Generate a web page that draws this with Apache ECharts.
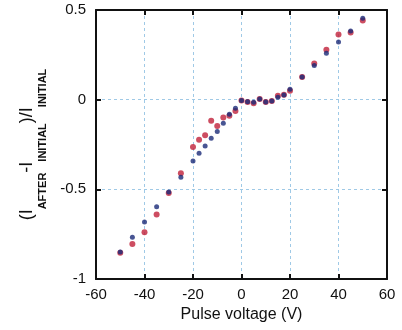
<!DOCTYPE html>
<html>
<head>
<meta charset="utf-8">
<script src="https://cdn.jsdelivr.net/npm/echarts@6/dist/echarts.min.js"></script>
<style>
  html, body { margin: 0; padding: 0; background: #fff; }
  #chart { width: 402px; height: 330px; }
</style>
</head>
<body>
<div id="chart"></div>
<script>
// pulse voltage (V)
const voltages = [-50, -45, -40, -35, -30, -25, -20, -17.5, -15, -12.5, -10, -7.5, -5, -2.5,
  0, 2.5, 5, 7.5, 10, 12.5, 15, 17.5, 20, 25, 30, 35, 40, 45, 50]
// (I_after - I_initial) / I_initial
const redValues = [-0.853, -0.805, -0.74, -0.641, -0.52, -0.411, -0.264, -0.223, -0.199, -0.117,
  -0.147, -0.1, -0.089, -0.063, -0.005, -0.013, -0.02, 0.004, -0.013, -0.007, 0.022, 0.028,
  0.05, 0.127, 0.201, 0.279, 0.363, 0.374, 0.441]
const blueValues = [-0.85, -0.767, -0.682, -0.597, -0.515, -0.433, -0.342, -0.299, -0.258, -0.215,
  -0.178, -0.132, -0.082, -0.048, -0.005, -0.011, -0.015, 0.004, -0.013, -0.007, 0.013, 0.026,
  0.058, 0.127, 0.19, 0.259, 0.322, 0.383, 0.454]

const pairs = (ys) => voltages.map((v, i) => [v, ys[i]])

const font = 'Liberation Sans, Arial, sans-serif'
const gridLine = { show: true, lineStyle: { color: '#9fc9e6', type: [3, 3], width: 1 } }
const frame = { show: true, onZero: false, lineStyle: { color: '#111', width: 2 } }
const inTicks = { show: true, inside: true, length: 5, lineStyle: { color: '#111', width: 2 } }

const chart = echarts.init(document.getElementById('chart'))
chart.setOption({
  animation: false,
  grid: { left: 96, right: 15, top: 10, bottom: 51 },
  xAxis: [
    {
      type: 'value', min: -60, max: 60, interval: 20,
      axisLine: frame, axisTick: inTicks, splitLine: gridLine,
      axisLabel: { color: '#111', fontSize: 15, fontFamily: font, margin: 8 },
      name: 'Pulse voltage (V)', nameLocation: 'middle', nameGap: 27,
      nameTextStyle: { color: '#111', fontSize: 16, fontFamily: font },
    },
    {
      type: 'value', position: 'top', min: -60, max: 60, interval: 20,
      axisLine: frame, axisTick: inTicks, splitLine: { show: false }, axisLabel: { show: false },
    },
  ],
  yAxis: [
    {
      type: 'value', min: -1, max: 0.5, interval: 0.5,
      axisLine: frame, axisTick: inTicks, splitLine: gridLine,
      axisLabel: { color: '#111', fontSize: 15, fontFamily: font, margin: 10 },
      // subscripts sit below the baseline of the main letters
      name: '{m|(I}{s|AFTER}{m|-I}{s|INITIAL}{m|)/I}{s|INITIAL}',
      nameLocation: 'middle', nameRotate: 90, nameGap: 48,
      nameTextStyle: {
        fontFamily: font,
        rich: {
          m: { fontSize: 18, fontFamily: font, color: '#111', verticalAlign: 'top', lineHeight: 30 },
          s: { fontSize: 11, fontFamily: font, color: '#111', fontWeight: 'bold',
            verticalAlign: 'bottom', lineHeight: 12 },
        },
      },
    },
    {
      type: 'value', position: 'right', min: -1, max: 0.5, interval: 0.5,
      axisLine: frame, axisTick: inTicks, splitLine: { show: false }, axisLabel: { show: false },
    },
  ],
  series: [
    {
      name: 'red', type: 'scatter', data: pairs(redValues),
      symbolSize: 6, itemStyle: { color: '#c0203a' },
    },
    {
      name: 'blue', type: 'scatter', data: pairs(blueValues),
      symbolSize: 5, itemStyle: { color: '#1a2a78' },
    },
  ],
})
</script>
</body>
</html>
